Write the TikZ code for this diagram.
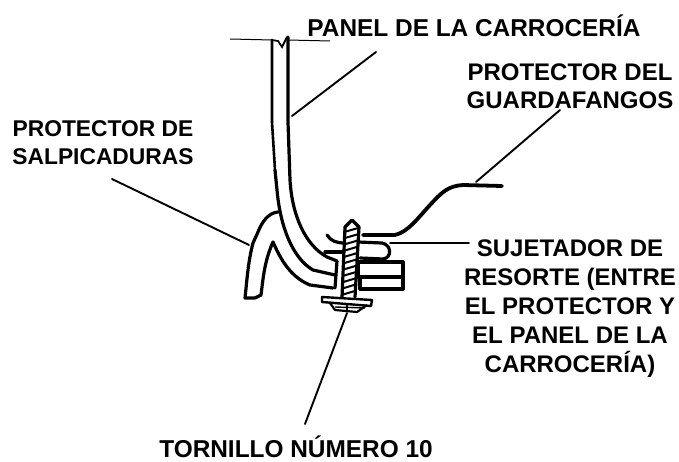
\documentclass[tikz,border=0pt]{standalone}
\usepackage{fontspec}
\setmainfont{Liberation Sans}
\usepackage{tikz}
\usetikzlibrary{calc}
\tikzstyle{leader} = [line width=1.9pt,line cap=round]
\tikzstyle{part} = [line width=3.2pt,line cap=round,line join=round]
\tikzstyle{label} = [font=\fontsize{24}{29}\selectfont\bfseries,align=center,inner sep=0pt]

\begin{document}
\begin{tikzpicture}[x=1pt,y=-1pt]
    \useasboundingbox (0,0) rectangle (679,462);

    % labels
    \node[label,font=\fontsize{24.4}{29}\selectfont\bfseries] (panel) at (474,26) {PANEL DE LA CARROCERÍA};
    \node[label,font=\fontsize{24}{28.3}\selectfont\bfseries] (fender) at (570,86) {PROTECTOR DEL\\GUARDAFANGOS};
    \node[label,font=\fontsize{22.8}{28}\selectfont\bfseries] (splash) at (103,143) {PROTECTOR DE\\SALPICADURAS};
    \node[label] (clip) at (570,309) {SUJETADOR DE\\RESORTE (ENTRE\\EL PROTECTOR Y\\EL PANEL DE LA\\CARROCERÍA)};
    \node[label,font=\fontsize{24.4}{29}\selectfont\bfseries] (screw) at (296,447) {TORNILLO NÚMERO 10};

    % leader ends
    \coordinate (P1) at (376,52);
    \coordinate (P2) at (292,116);
    \coordinate (F1) at (560,110);
    \coordinate (F2) at (476,182);
    \coordinate (S1) at (112,179);
    \coordinate (S2) at (249,245);
    \coordinate (C1) at (469,243);
    \coordinate (C2) at (390,243);
    \coordinate (T1) at (305,424);
    \coordinate (T2) at (347,313);

    \draw[leader] (P1) -- (P2);
    \draw[leader] (F1) -- (F2);
    \draw[leader] (S1) -- (S2);
    \draw[leader] (C1) -- (C2);
    \draw[leader] (T1) -- (T2);

    % body panel
    \draw[line width=1pt] (230,39) -- (272,40);
    \draw[line width=1pt] (288,40) -- (330,41);
    \draw[line width=1.8pt] (272,40) -- (278,41) -- (282,47) -- (287,37);
    \draw[part,line width=2.6pt] (272,40) -- (272,122) -- (275,170);
    \draw[part] (275,170) -- (277,190)
        .. controls (280,225) and (292,258) .. (313,270) -- (335,275);
    \draw[part] (288,37) -- (288,122) -- (290,180)
        .. controls (292,215) and (305,245) .. (327,257) -- (337,261);
    \draw[part] (337,261) -- (335,288);

    % splash shield
    \draw[part] (278,212) .. controls (268,213) and (262,222) .. (258,232)
        -- (253,243) .. controls (248,262) and (247,280) .. (245,298)
        -- (255,298) -- (261,295) .. controls (263,280) and (264,262) .. (273,242)
        .. controls (280,258) and (290,277) .. (310,285) -- (333,288);

    % fender protector
    \draw[part,line width=3.8pt] (363,235) -- (395,235) .. controls (408,232) and (418,218) .. (430,205)
        .. controls (442,192) and (448,186) .. (463,185) -- (502,186);

    % spring clip
    \draw[part] (327,235) .. controls (331,241) and (336,243) .. (345,243);
    \draw[part] (358,242) -- (382,243) .. controls (392,245) and (392,258) .. (383,259) -- (360,258);
    \draw[part] (325,252) -- (342,252);
    \draw[part] (358,262) rectangle (403,277);
    \draw[part] (360,277) rectangle (403,289);

    % screw
    \coordinate (TL) at (345,227);
    \coordinate (TR) at (359,227);
    \coordinate (BL) at (342,297);
    \coordinate (BR) at (355,297);
    \draw[part] (BL) -- (TL) -- (352,220) -- (TR) -- (BR);
    \foreach \t in {0.04,0.13,...,1.0} {
        \draw[line width=2pt] ($(TL)!\t!(BL)+(0,2)$) -- ($(TR)!\t!(BR)+(0,-2)$);
    }
    \draw[line width=2.4pt,line join=round] (322,297) -- (372,300) -- (371,306) -- (322,302) -- cycle;
    \draw[line width=2.2pt,line join=round] (330,303) -- (335,310) -- (357,312) -- (367,305);
    \draw[line width=1.4pt] (335,307) -- (365,308);
    \draw[line width=1.4pt] (347,305) -- (347,311);
\end{tikzpicture}
\end{document}
